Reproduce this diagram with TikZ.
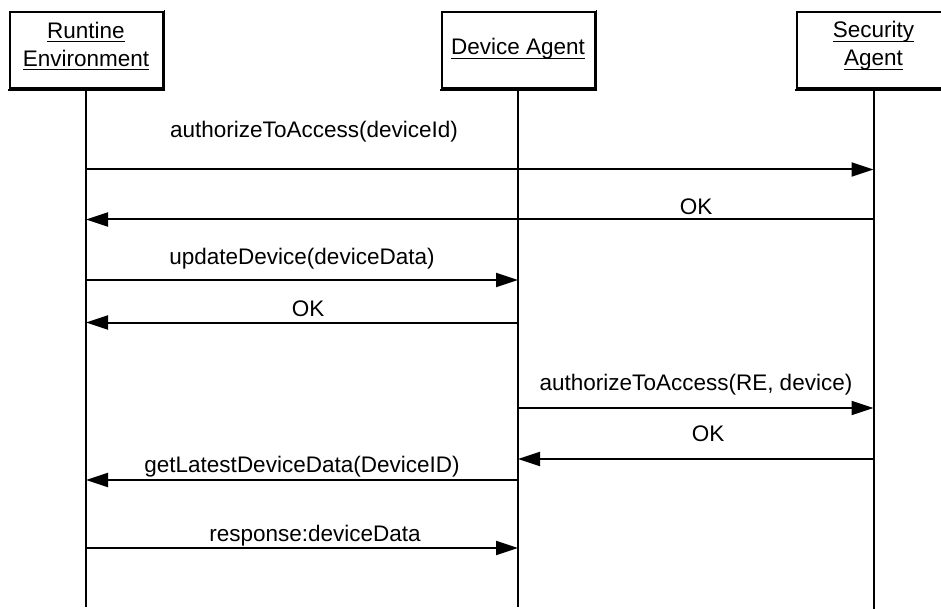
\documentclass[tikz,border=0pt]{standalone}
\usepackage{fontspec}
\setmainfont{Liberation Sans}
\usetikzlibrary{arrows.meta}
% underlined word with a firm rule below the baseline
\newcommand\ulword[1]{\setbox0\hbox{#1}\rlap{\rule[-4pt]{\wd0}{1.3pt}}\box0}
\begin{document}
\begin{tikzpicture}[x=1pt,y=-1pt,
  every node/.style={font=\fontsize{22.5}{28}\selectfont},
  actor/.style={draw, line width=2pt, minimum width=153pt, minimum height=76pt, inner sep=0pt},
  actortext/.style={inner sep=0pt, align=center},
  lifeline/.style={line width=2pt},
  msg/.style={line width=2pt, -{Triangle[length=22pt,width=14pt]}},
  lbl/.style={inner sep=0pt}]
\useasboundingbox (0,0) rectangle (941,609);
\fill[white] (0,0) rectangle (941,609);

% participants
\node[actor] (re) at (86,50) {};
\node[actor] (da) at (518,50) {};
\node[actor] (sa) at (873.5,50) {};
\foreach \b in {re,da,sa}{
  \fill ([xshift=-1pt]\b.south west) rectangle ([xshift=1pt,yshift=-2pt]\b.south east);
  \fill ([yshift=1pt]\b.north east) rectangle ([xshift=1pt,yshift=-1pt]\b.south east);
}
\node[actortext] (ret) at (86,46) {\ulword{Runtine}\\\ulword{Environment}};
\node[actortext] (dat) at (518,49) {\ulword{Device Agent}};
\node[actortext] (sat) at (873.5,46) {\ulword{Security}\\\ulword{Agent}};

% lifelines
\coordinate (reend) at (86,607);
\coordinate (daend) at (518,607);
\coordinate (saend) at (873.5,609);
\draw[lifeline] ([yshift=-2pt]re.south) -- (reend);
\draw[lifeline] ([yshift=-2pt]da.south) -- (daend);
\draw[lifeline] ([yshift=-2pt]sa.south) -- (saend);

% messages
\draw[msg] (re.south |- 0,169.5) -- (sa.south |- 0,169.5);
\draw[msg] (sa.south |- 0,219.5) -- (re.south |- 0,219.5);
\draw[msg] (re.south |- 0,280) -- (da.south |- 0,280);
\draw[msg] (da.south |- 0,322.5) -- (re.south |- 0,322.5);
\draw[msg] (da.south |- 0,408) -- (sa.south |- 0,408);
\draw[msg] (sa.south |- 0,459) -- (da.south |- 0,459);
\draw[msg] (da.south |- 0,480) -- (re.south |- 0,480);
\draw[msg] (re.south |- 0,548) -- (da.south |- 0,548);

% message labels
\node[lbl] (l1) at (314,131.5) {authorizeToAccess(deviceId)};
\node[lbl] (l2) at (696,206.7) {OK};
\node[lbl] (l3) at (302,259) {updateDevice(deviceData)};
\node[lbl] (l4) at (308,308.3) {OK};
\node[lbl] (l5) at (696,385) {authorizeToAccess(RE, device)};
\node[lbl] (l6) at (708,434) {OK};
\node[lbl] (l7) at (302,467) {getLatestDeviceData(DeviceID)};
\node[lbl] (l8) at (315,536) {response:deviceData};
\end{tikzpicture}
\end{document}
